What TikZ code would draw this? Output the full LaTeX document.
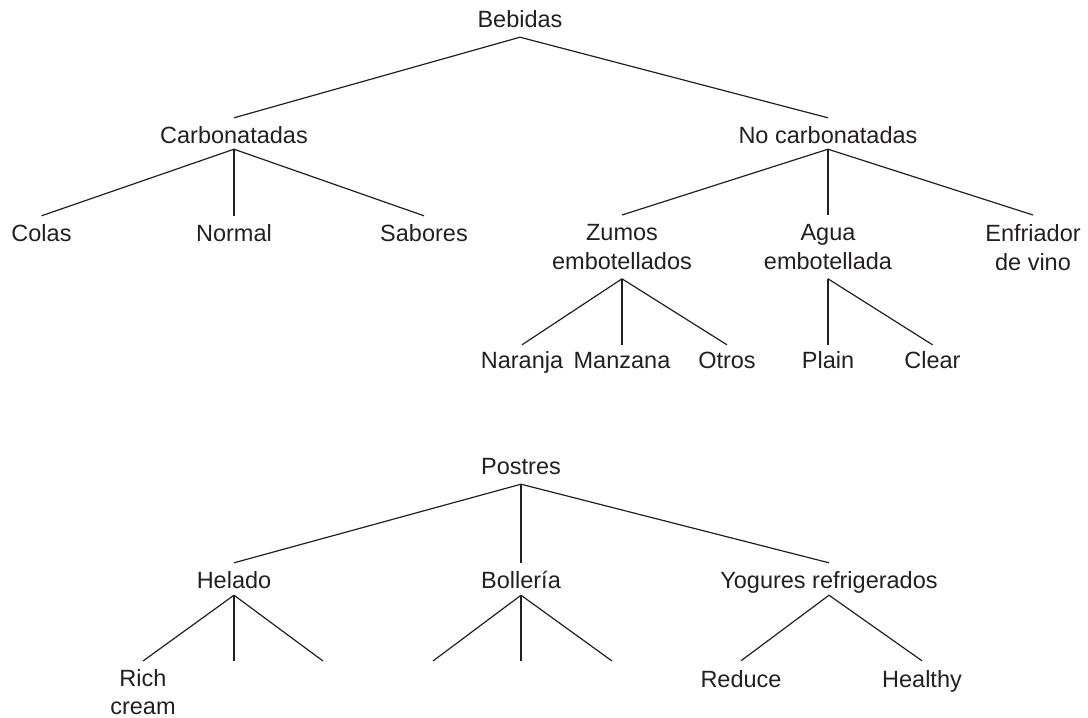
\documentclass[tikz,border=0pt]{standalone}
\usepackage{fontspec}
\setmainfont{Liberation Sans}
\definecolor{ink}{RGB}{35,31,32}
\newcommand{\lblfont}{\fontsize{23.5pt}{29pt}\selectfont}
\newcommand{\lblfonttight}{\fontsize{23.5pt}{28pt}\selectfont}
\begin{document}
\begin{tikzpicture}[x=1pt,y=-1pt,
  lbl/.style={inner sep=0pt, font=\lblfont, text=ink, text height=17pt, text depth=0pt, anchor=base},
  lbltwo/.style={inner sep=0pt, font=\lblfont, text=ink, align=center, anchor=north},
  edge/.style={draw=ink, line width=1.2pt}]
\useasboundingbox (0,0) rectangle (1088,718);

% ---- Bebidas tree ----
\node[lbl] (beb) at (520,27) {Bebidas};
\node[lbl] (carb) at (234,143) {Carbonatadas};
\node[lbl] (nocarb) at (828,143) {No carbonatadas};
\node[lbl] (colas) at (41.5,241) {Colas};
\node[lbl] (normal) at (234,241) {Normal};
\node[lbl] (sabores) at (424,241) {Sabores};
\node[lbltwo] (zumos) at (622,224) {Zumos\\embotellados};
\node[lbltwo] (agua) at (828,224) {Agua\\embotellada};
\node[lbltwo] (enfr) at (1033,224) {Enfriador\\de vino};
\node[lbl] (naranja) at (522,368) {Naranja};
\node[lbl] (manzana) at (622,368) {Manzana};
\node[lbl] (otros) at (727,368) {Otros};
\node[lbl] (plain) at (828,368) {Plain};
\node[lbl] (clear) at (932.5,368) {Clear};

% ---- Postres tree ----
\node[lbl] (postres) at (521,474) {Postres};
\node[lbl] (helado) at (234,588) {Helado};
\node[lbl] (bolleria) at (521,588) {Bollería};
\node[lbl] (yogures) at (829,588) {Yogures refrigerados};
\node[lbltwo, font=\lblfonttight] (rich) at (143,669) {Rich\\cream};
\node[lbl] (reduce) at (741,687) {Reduce};
\node[lbl] (healthy) at (922,687) {Healthy};
\coordinate (h2) at (234,661);
\coordinate (h3) at (323,661);
\coordinate (b1) at (433,661);
\coordinate (b2) at (521,661);
\coordinate (b3) at (612,661);

% ---- connectors ----
\draw[edge] ([yshift=8pt]carb.north) -- ([yshift=-10pt]beb.south) -- ([yshift=8pt]nocarb.north);
\foreach \c in {colas,normal,sabores}
  \draw[edge] ([yshift=-6pt]carb.south) -- ([yshift=8pt]\c.north);
\foreach \c in {zumos,agua,enfr}
  \draw[edge] ([yshift=-6pt]nocarb.south) -- ([yshift=9pt]\c.north);
\foreach \c in {naranja,manzana,otros}
  \draw[edge] ([yshift=-9pt]zumos.south) -- ([yshift=6pt]\c.north);
\foreach \c in {plain,clear}
  \draw[edge] ([yshift=-9pt]agua.south) -- ([yshift=6pt]\c.north);

\foreach \c in {helado,bolleria,yogures}
  \draw[edge] ([yshift=-10pt]postres.south) -- ([yshift=8pt]\c.north);
\draw[edge] ([yshift=-7pt]helado.south) -- ([yshift=8pt]rich.north);
\foreach \c in {h2,h3}
  \draw[edge] ([yshift=-7pt]helado.south) -- (\c);
\foreach \c in {b1,b2,b3}
  \draw[edge] ([yshift=-7pt]bolleria.south) -- (\c);
\foreach \c in {reduce,healthy}
  \draw[edge] ([yshift=-7pt]yogures.south) -- ([yshift=9pt]\c.north);
\end{tikzpicture}
\end{document}
